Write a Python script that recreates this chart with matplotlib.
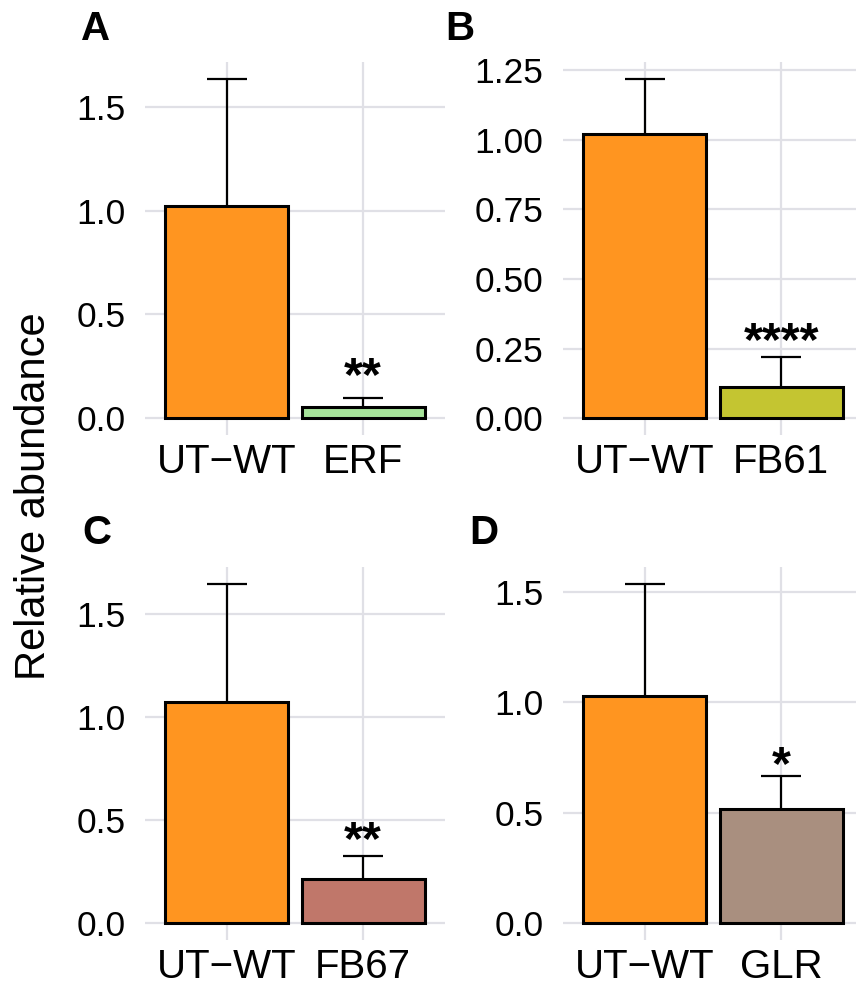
import matplotlib
matplotlib.use("Agg")
import matplotlib.pyplot as plt
import numpy as np

plt.rcParams['font.family'] = ['Liberation Sans', 'DejaVu Sans']

# ---- data ----
panel_letters = ["A", "B", "C", "D"]
categories_A = ["UT\u2212WT", "ERF"]
categories_B = ["UT\u2212WT", "FB61"]
categories_C = ["UT\u2212WT", "FB67"]
categories_D = ["UT\u2212WT", "GLR"]
means_A = [1.02, 0.053]
means_B = [1.02, 0.111]
means_C = [1.073, 0.213]
means_D = [1.03, 0.516]
errs_A = [0.614, 0.043]
errs_B = [0.199, 0.107]
errs_C = [0.572, 0.111]
errs_D = [0.505, 0.148]
signif_A = ["", "**"]
signif_B = ["", "****"]
signif_C = ["", "**"]
signif_D = ["", "*"]
yticks_A = [0.0, 0.5, 1.0, 1.5]
yticks_B = [0.0, 0.25, 0.5, 0.75, 1.0, 1.25]
yticks_C = [0.0, 0.5, 1.0, 1.5]
yticks_D = [0.0, 0.5, 1.0, 1.5]
ytick_fmt = ["{:.1f}", "{:.2f}", "{:.1f}", "{:.1f}"]

# ---- style ----
colors_A = ["#FF9520", "#A6E39A"]
colors_B = ["#FF9520", "#C4C531"]
colors_C = ["#FF9520", "#C0776A"]
colors_D = ["#FF9520", "#A98F7F"]
star_offsets_px = [8, 2, 2, -3]

panels = [
    (categories_A, means_A, errs_A, signif_A, yticks_A, colors_A),
    (categories_B, means_B, errs_B, signif_B, yticks_B, colors_B),
    (categories_C, means_C, errs_C, signif_C, yticks_C, colors_C),
    (categories_D, means_D, errs_D, signif_D, yticks_D, colors_D),
]

W, H = 856, 992
fig = plt.figure(figsize=(W / 100, H / 100), dpi=100)

ax_rects = [
    (145, 62, 300, 373),
    (563, 62, 300, 373),
    (145, 567, 300, 373),
    (563, 567, 300, 373),
]
letter_pos = [(81, 40), (445, 40), (82, 544), (469, 544)]

for i, (cats, means, errs, sig, yt, cols) in enumerate(panels):
    x0, y0, w, h = ax_rects[i]
    ax = fig.add_axes([x0 / W, 1 - (y0 + h) / H, w / W, h / H])
    x = np.arange(1, len(cats) + 1)
    means = np.array(means)
    errs = np.array(errs)
    tops = means + errs
    ymax = tops.max()
    ax.set_xlim(0.4, len(cats) + 0.6)
    ax.set_ylim(-0.05 * ymax, 1.05 * ymax)
    ax.set_axisbelow(True)
    ax.grid(True, color="#e0e0e6", lw=1.6)
    ax.bar(x, means, width=0.9, color=cols, edgecolor="black", linewidth=2.2, zorder=2)
    ax.vlines(x, means, tops, color="black", lw=1.6, zorder=3)
    ax.hlines(tops, x - 0.145, x + 0.145, color="black", lw=1.6, zorder=3)
    for xi, ti, s in zip(x, tops, sig):
        if s:
            ax.annotate(s, (xi, ti), xytext=(0, star_offsets_px[i] * 0.72),
                        textcoords="offset points", ha="center", va="baseline",
                        fontsize=35, fontweight="bold", zorder=4)
    ax.set_xticks(x)
    ax.set_xticklabels(cats, fontsize=29)
    ax.set_yticks(yt)
    ax.set_yticklabels([ytick_fmt[i].format(v) for v in yt], fontsize=25.5)
    ax.tick_params(axis="both", length=0, colors="black")
    ax.tick_params(axis="y", pad=14)
    ax.tick_params(axis="x", pad=6)
    for sp in ax.spines.values():
        sp.set_visible(False)
    lx, ly = letter_pos[i]
    fig.text(lx / W, 1 - ly / H, panel_letters[i], fontsize=29, fontweight="bold",
             ha="left", va="baseline")

fig.text(34 / W, 0.5, "Relative abundance", rotation=90, fontsize=30,
         ha="center", va="center")

fig.savefig("out.png", dpi=100)
